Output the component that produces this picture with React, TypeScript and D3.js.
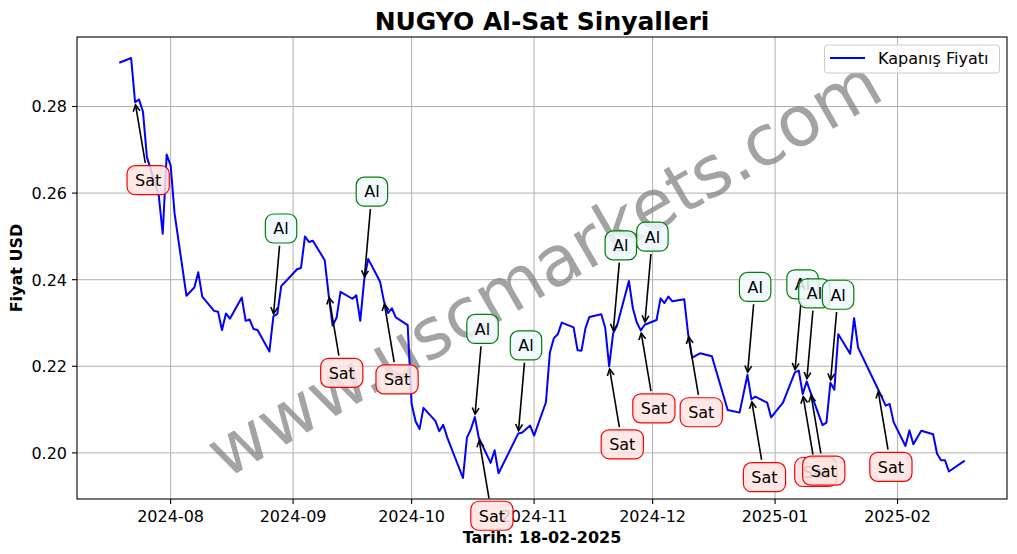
import React from 'react';
import * as d3 from 'd3';

const dates = [
  '2024-07-19','2024-07-22','2024-07-23','2024-07-24','2024-07-25','2024-07-26','2024-07-29','2024-07-30','2024-07-31',
  '2024-08-01','2024-08-02','2024-08-05','2024-08-07','2024-08-08','2024-08-09','2024-08-12','2024-08-13','2024-08-14',
  '2024-08-15','2024-08-16','2024-08-19','2024-08-20','2024-08-21','2024-08-22','2024-08-23','2024-08-26','2024-08-27',
  '2024-08-28','2024-08-29','2024-09-02','2024-09-03','2024-09-04','2024-09-05','2024-09-06','2024-09-09','2024-09-10',
  '2024-09-11','2024-09-12','2024-09-13','2024-09-16','2024-09-17','2024-09-18','2024-09-19','2024-09-20','2024-09-23',
  '2024-09-24','2024-09-25','2024-09-26','2024-09-27','2024-09-30','2024-10-01','2024-10-02','2024-10-03','2024-10-04',
  '2024-10-07','2024-10-08','2024-10-09','2024-10-10','2024-10-14','2024-10-15','2024-10-16','2024-10-17','2024-10-18',
  '2024-10-21','2024-10-22','2024-10-23','2024-10-28','2024-10-29','2024-10-31','2024-11-01','2024-11-04','2024-11-05',
  '2024-11-06','2024-11-07','2024-11-08','2024-11-11','2024-11-12','2024-11-13','2024-11-14','2024-11-15','2024-11-18',
  '2024-11-19','2024-11-20','2024-11-21','2024-11-22','2024-11-25','2024-11-26','2024-11-27','2024-11-28','2024-11-29',
  '2024-12-02','2024-12-03','2024-12-04','2024-12-05','2024-12-06','2024-12-09','2024-12-10','2024-12-11','2024-12-13',
  '2024-12-16','2024-12-20','2024-12-23','2024-12-24','2024-12-25','2024-12-26','2024-12-27','2024-12-30','2024-12-31',
  '2025-01-03','2025-01-06','2025-01-07','2025-01-08','2025-01-09','2025-01-10','2025-01-13','2025-01-14','2025-01-15',
  '2025-01-16','2025-01-17','2025-01-20','2025-01-21','2025-01-22','2025-01-27','2025-01-29','2025-01-30','2025-01-31',
  '2025-02-03','2025-02-04','2025-02-05','2025-02-07','2025-02-10','2025-02-11','2025-02-12','2025-02-13','2025-02-14',
  '2025-02-18',
];

const closes = [
  0.2901,0.2912,0.2810,0.2816,0.2788,0.2683,0.2594,0.2506,0.2689,
  0.2664,0.2553,0.2363,0.2382,0.2417,0.2361,0.2328,0.2326,0.2284,
  0.2322,0.2310,0.2359,0.2305,0.2308,0.2286,0.2284,0.2234,0.2315,
  0.2321,0.2385,0.2424,0.2427,0.2500,0.2487,0.2490,0.2445,0.2365,
  0.2294,0.2312,0.2372,0.2356,0.2364,0.2305,0.2400,0.2448,0.2396,
  0.2350,0.2323,0.2334,0.2313,0.2295,0.2113,0.2073,0.2055,0.2104,
  0.2074,0.2050,0.2065,0.2036,0.1942,0.2035,0.2055,0.2083,0.2035,
  0.1977,0.2006,0.1953,0.2045,0.2047,0.2063,0.2040,0.2117,0.2232,
  0.2265,0.2274,0.2301,0.2290,0.2237,0.2236,0.2288,0.2314,0.2320,
  0.2289,0.2200,0.2276,0.2294,0.2397,0.2334,0.2301,0.2283,0.2296,
  0.2307,0.2357,0.2346,0.2361,0.2350,0.2355,0.2274,0.2220,0.2230,
  0.2223,0.2099,0.2093,0.2136,0.2180,0.2124,0.2130,0.2116,0.2082,
  0.2116,0.2186,0.2190,0.2136,0.2165,0.2139,0.2064,0.2070,0.2162,
  0.2146,0.2274,0.2229,0.2311,0.2243,0.2148,0.2109,0.2113,0.2071,
  0.2016,0.2052,0.2020,0.2051,0.2043,0.1998,0.1983,0.1983,0.1957,
  0.1982,
];

const sellDates = ['2024-07-23','2024-09-10','2024-09-24','2024-10-18','2024-11-20','2024-11-28','2024-12-10','2024-12-26','2025-01-08','2025-01-10','2025-01-27'];
const buyDates = ['2024-08-27','2024-09-19','2024-10-17','2024-10-28','2024-11-21','2024-11-29','2024-12-25','2025-01-06','2025-01-09','2025-01-15'];

const yTicks = [0.20, 0.22, 0.24, 0.26, 0.28];
const xTickMonths = ['2024-08-01','2024-09-01','2024-10-01','2024-11-01','2024-12-01','2025-01-01','2025-02-01'];

const titleText = 'NUGYO Al-Sat Sinyalleri';
const xLabelText = 'Tarih: 18-02-2025';
const yLabelText = 'Fiyat USD';
const legendText = 'Kapanış Fiyatı';
const watermarkText = 'www.uscmarkets.com';

const W = 1017, H = 554;
const L = 77, R = 1007, T = 37, B = 499;
const FONT = 'DejaVu Sans, sans-serif';

export default function App() {
  const parse = d3.utcParse('%Y-%m-%d');
  const data = dates.map((d, i) => ({ key: d, date: parse(d) as Date, value: closes[i] }));
  const [x0, x1] = d3.extent(data, d => d.date.getTime()) as [number, number];
  const [y0, y1] = d3.extent(data, d => d.value) as [number, number];
  const xp = (x1 - x0) * 0.05, yp = (y1 - y0) * 0.05;
  const x = d3.scaleUtc().domain([new Date(x0 - xp), new Date(x1 + xp)]).range([L, R]);
  const y = d3.scaleLinear().domain([y0 - yp, y1 + yp]).range([B, T]);
  const line = d3.line<{ date: Date; value: number }>().x(d => x(d.date)).y(d => y(d.value));
  const fmt = d3.utcFormat('%Y-%m');
  const byDate = new Map(data.map(d => [d.key, d]));

  const signals = [
    ...sellDates.map(d => ({ d, kind: 'Sat' })),
    ...buyDates.map(d => ({ d, kind: 'Al' })),
  ].sort((a, b) => a.d.localeCompare(b.d));

  const annotations = signals.map((s, i) => {
    const pt = byDate.get(s.d)!;
    const px = x(pt.date), py = y(pt.value);
    const isSell = s.kind === 'Sat';
    const tw = isSell ? 26.2 : 15.4;
    const cx = px + tw / 2;
    const cy = py + (isSell ? 78 : -88);
    const hw = tw / 2 + 8, hh = 14.5;
    const vx = px - cx, vy = py - cy;
    const len = Math.hypot(vx, vy);
    const ux = vx / len, uy = vy / len;
    const tEdge = Math.min(Math.abs(vx) > 1e-6 ? hw / Math.abs(ux) : Infinity, hh / Math.abs(uy));
    const sx = cx + ux * (tEdge + 2.8), sy = cy + uy * (tEdge + 2.8);
    const ex = px - ux * 2.8, ey = py - uy * 2.8;
    const hl = 6.4, hwid = 3.4;
    const bx = ex - ux * hl, by = ey - uy * hl;
    const nx = -uy, ny = ux;
    const h1 = [bx + nx * hwid, by + ny * hwid];
    const h2 = [bx - nx * hwid, by - ny * hwid];
    return (
      <g key={i}>
        <line x1={sx} y1={sy} x2={ex} y2={ey} stroke="black" strokeWidth={1.6} />
        <polyline points={`${h1[0]},${h1[1]} ${ex},${ey} ${h2[0]},${h2[1]}`} fill="none" stroke="black" strokeWidth={1.6} />
        <rect x={cx - hw} y={cy - hh} width={hw * 2} height={hh * 2} rx={8} ry={8}
          fill={isSell ? '#ffe4e1' : '#f0f8ff'} fillOpacity={0.85}
          stroke={isSell ? '#ff0000' : '#008000'} strokeWidth={1.2} />
        <text x={cx} y={cy + 5.8} textAnchor="middle" fontSize={16} fontFamily={FONT} fill="black">{s.kind}</text>
      </g>
    );
  });

  return (
    <svg width={W} height={H} style={{ position: 'fixed', left: 0, top: 0, background: 'white' }}>
      <rect x={0} y={0} width={W} height={H} fill="white" />
      <g>
        {xTickMonths.map(m => {
          const xv = x(parse(m) as Date);
          return <line key={m} x1={xv} x2={xv} y1={T} y2={B} stroke="#b0b0b0" strokeWidth={1} />;
        })}
        {yTicks.map(t => (
          <line key={t} x1={L} x2={R} y1={y(t)} y2={y(t)} stroke="#b0b0b0" strokeWidth={1} />
        ))}
      </g>
      <text x={(L + R) / 2 + 2} y={(T + B) / 2} textAnchor="middle" dominantBaseline="central"
        transform={`rotate(-30 ${(L + R) / 2 + 2} ${(T + B) / 2})`} fontSize={70} fontFamily={FONT}
        fill="#808080" fillOpacity={0.72}>{watermarkText}</text>
      <path d={line(data) || ''} fill="none" stroke="#0000ff" strokeWidth={2} strokeLinejoin="round" />
      <rect x={L} y={T} width={R - L} height={B - T} fill="none" stroke="black" strokeWidth={1.1} />
      {xTickMonths.map(m => {
        const dt = parse(m) as Date;
        const xv = x(dt);
        return (
          <g key={m}>
            <line x1={xv} x2={xv} y1={B} y2={B + 5} stroke="black" strokeWidth={1.1} />
            <text x={xv} y={B + 23} textAnchor="middle" fontSize={16} fontFamily={FONT}>{fmt(dt)}</text>
          </g>
        );
      })}
      {yTicks.map(t => (
        <g key={t}>
          <line x1={L - 5} x2={L} y1={y(t)} y2={y(t)} stroke="black" strokeWidth={1.1} />
          <text x={L - 10} y={y(t) + 6} textAnchor="end" fontSize={16} fontFamily={FONT}>{t.toFixed(2)}</text>
        </g>
      ))}
      <text x={(L + R) / 2} y={30} textAnchor="middle" fontSize={25} fontWeight="bold" fontFamily={FONT}>{titleText}</text>
      <text x={(L + R) / 2} y={543} textAnchor="middle" fontSize={16} fontWeight="bold" fontFamily={FONT}>{xLabelText}</text>
      <text transform={`translate(22 ${(T + B) / 2}) rotate(-90)`} textAnchor="middle" fontSize={16} fontWeight="bold" fontFamily={FONT}>{yLabelText}</text>
      <g>
        <rect x={824.5} y={45} width={175} height={28} rx={3} ry={3} fill="white" fillOpacity={0.8} stroke="#cccccc" strokeWidth={1} />
        <line x1={830} x2={865} y1={58} y2={58} stroke="#0000ff" strokeWidth={2} />
        <text x={878} y={64} fontSize={16} fontFamily={FONT}>{legendText}</text>
      </g>
      {annotations}
    </svg>
  );
}
